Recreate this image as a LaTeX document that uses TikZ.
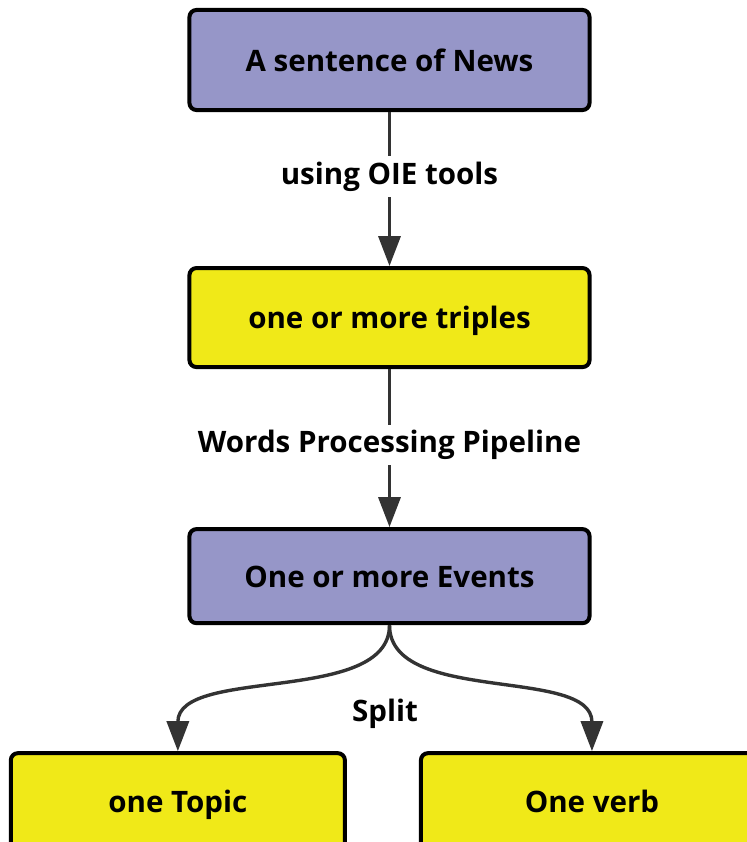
\documentclass[tikz,border=0pt]{standalone}
\usepackage{fontspec}
\setmainfont{Open Sans}
\usetikzlibrary{arrows.meta, positioning}
\definecolor{newsViolet}{RGB}{150,150,200}
\definecolor{newsYellow}{RGB}{240,233,24}
\definecolor{flowGray}{RGB}{51,51,51}
\tikzset{
    font=\bfseries\fontsize{21}{25}\selectfont,
    >={Triangle[length=0.75cm, width=0.55cm]},
    % Colors
    boxViolet/.style={draw=black, fill=newsViolet},
    boxYellow/.style={draw=black, fill=newsYellow},
    % Shapes
    box/.style={rectangle, line width=0.1cm, rounded corners=5pt,
                minimum width=10cm, minimum height=2.5cm, align=center,
                text height=0.55cm, text depth=0pt, boxViolet},
    leaf/.style={box, boxYellow, minimum width=8.35cm, minimum height=2.4cm},
    % Flow & Labels
    flow/.style={->, line width=0.085cm, flowGray},
    lbl/.style={fill=white, inner sep=4pt, text=black, align=center}
}

\begin{document}
\begin{tikzpicture}[x=0.025cm, y=-0.025cm, node distance=3.85cm and 2cm]

\useasboundingbox (0,0) rectangle (746,842);

\node[box] (news) at (389.5,60) {A sentence of News};
\node[box, boxYellow, below=of news, minimum height=2.475cm] (triples) {one or more triples};
\node[box, below=3.95cm of triples, minimum height=2.35cm] (events) {One or more Events};
\node[leaf, below=3.15cm of events, xshift=-5.29cm] (topic) {one Topic};
\node[leaf, below=3.15cm of events, xshift=5.06cm, minimum width=8.55cm] (verb) {One verb};

\draw[flow] (news) -- node[lbl, pos=0.42] {using OIE tools} (triples);
\draw[flow] (triples) -- node[lbl, pos=0.48] {Words Processing Pipeline} (events);
\draw[flow] (events.south) .. controls +(0,80) and +(0,-85) .. (topic.north);
\draw[flow] (events.south) .. controls +(0,80) and +(0,-85) .. (verb.north);
\node[lbl, fill=none] (split) at (385,714) {Split};

\end{tikzpicture}
\end{document}
